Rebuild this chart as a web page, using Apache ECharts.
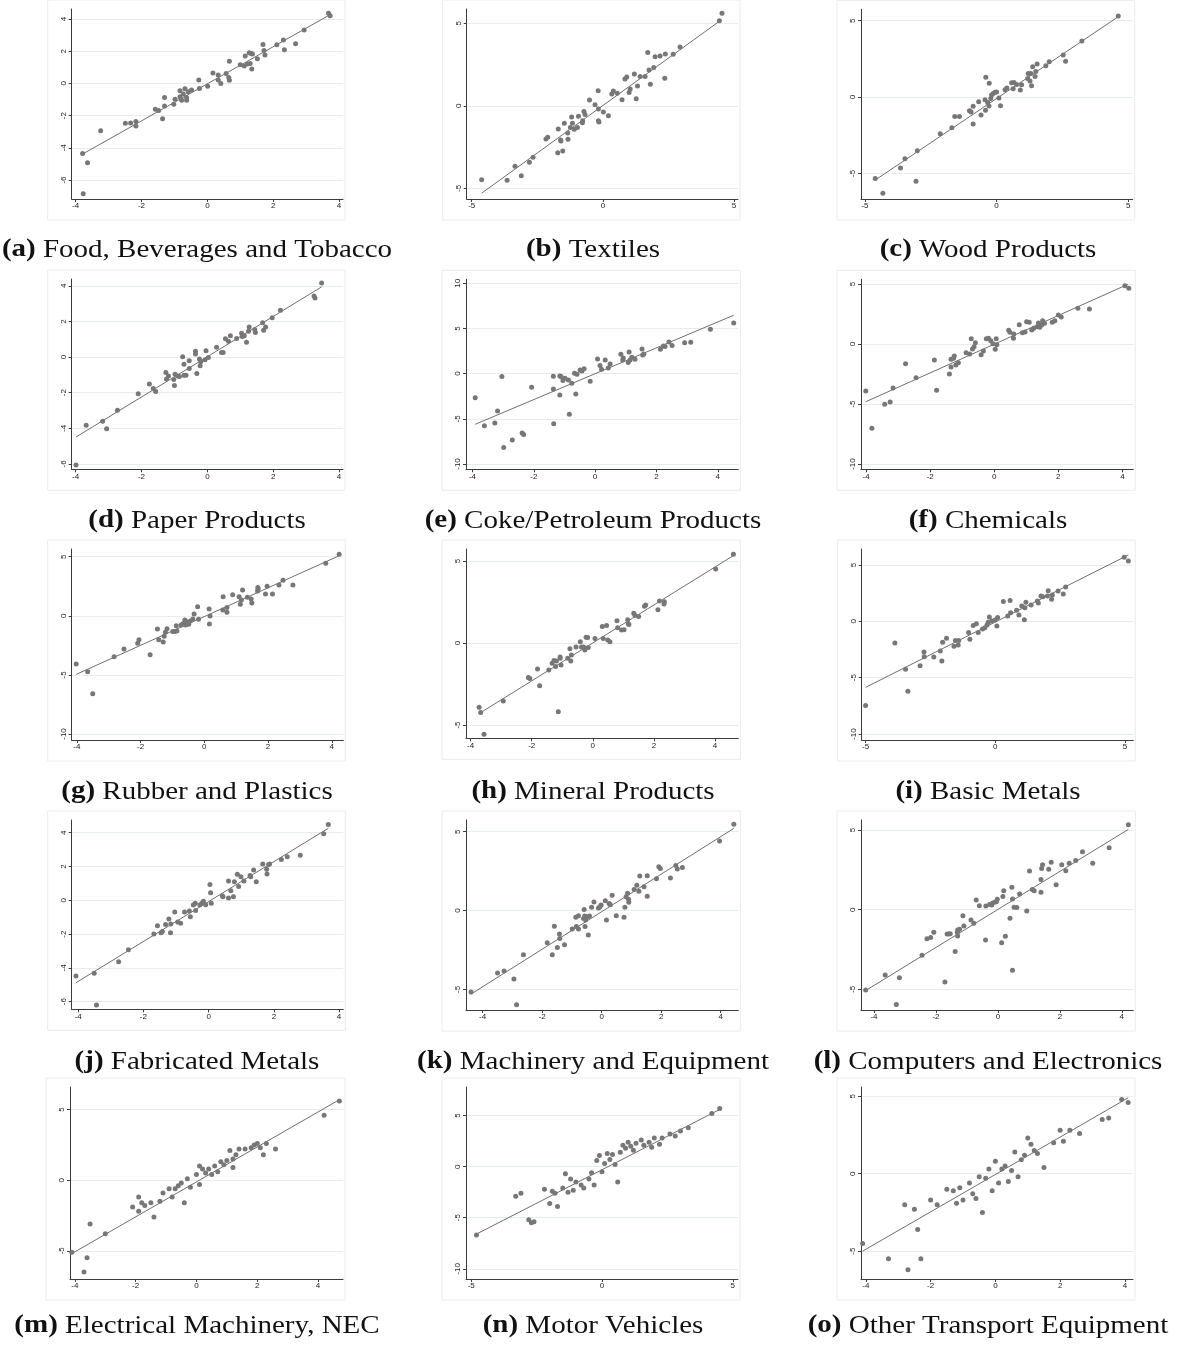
<!DOCTYPE html>
<html>
<head>
<meta charset="utf-8">
<script src="https://cdn.jsdelivr.net/npm/echarts@6/dist/echarts.min.js"></script>
<style>
  html, body { margin: 0; padding: 0; background: #ffffff; }
  #chart { width: 1181px; height: 1350px; }
</style>
</head>
<body>
<div id="chart"></div>
<script>
// ---- industry scatter data: [x, y] pairs, plus the fitted line end points ----
const foodPts = [[-3.79,-4.35],[-3.64,-4.93],[-3.77,-6.85],[-3.24,-2.94],[-2.49,-2.48],[-2.33,-2.46],[-2.17,-2.36],[-2.17,-2.65],[-1.58,-1.61],[-1.48,-1.68],[-1.36,-2.19],[-1.30,-0.87],[-1.30,-1.41],[-1.02,-1.30],[-0.98,-0.99],[-0.83,-0.46],[-0.83,-0.83],[-0.78,-1.04],[-0.73,-0.66],[-0.68,-0.33],[-0.63,-0.87],[-0.63,-1.04],[-0.58,-0.52],[-0.48,-0.41],[-0.26,0.21],[-0.24,-0.31],[0.01,-0.17],[0.17,0.64],[0.33,0.52],[0.33,0.21],[0.41,0.0],[0.57,0.62],[0.65,0.37],[0.67,0.19],[0.67,1.37],[1.0,1.16],[1.12,1.08],[1.15,1.70],[1.22,1.20],[1.27,1.90],[1.30,1.24],[1.33,1.86],[1.35,0.89],[1.37,1.82],[1.52,1.53],[1.69,2.42],[1.72,2.05],[1.75,1.76],[2.11,2.40],[2.31,2.69],[2.34,2.09],[2.68,2.46],[2.94,3.31],[3.68,4.35],[3.73,4.20]];
const foodFit = [[-3.79,-4.39],[3.73,4.27]];

const textilesPts = [[-4.62,-4.49],[-3.65,-4.52],[-3.35,-3.67],[-3.11,-4.24],[-2.80,-3.42],[-2.66,-3.12],[-2.17,-2.01],[-2.10,-1.91],[-1.72,-2.84],[-1.70,-1.40],[-1.61,-2.07],[-1.60,-2.13],[-1.53,-2.74],[-1.47,-1.06],[-1.34,-1.65],[-1.33,-2.03],[-1.24,-1.32],[-1.19,-0.68],[-1.16,-1.06],[-1.09,-1.42],[-0.97,-1.32],[-0.93,-0.64],[-0.78,-1.02],[-0.77,-0.90],[-0.72,-0.35],[-0.68,-0.52],[-0.51,0.35],[-0.30,0.07],[-0.18,0.92],[-0.17,-0.19],[-0.17,-0.90],[-0.15,-0.98],[0.02,-0.37],[0.21,-0.60],[0.34,0.72],[0.40,0.90],[0.55,0.76],[0.73,0.37],[0.84,1.62],[0.91,1.75],[1.00,0.80],[1.04,1.02],[1.20,1.93],[1.27,0.43],[1.32,1.20],[1.42,1.77],[1.61,1.77],[1.71,3.24],[1.76,2.17],[1.81,1.30],[1.94,2.33],[1.99,2.98],[2.18,3.02],[2.36,1.67],[2.38,3.14],[2.68,3.12],[2.94,3.56],[4.44,5.16],[4.54,5.61]];
const textilesFit = [[-4.62,-5.30],[4.47,5.16]];

const woodPts = [[-4.61,-5.33],[-4.32,-6.31],[-3.65,-4.65],[-3.48,-4.04],[-3.06,-5.52],[-3.01,-3.52],[-2.14,-2.40],[-1.70,-2.01],[-1.59,-1.27],[-1.41,-1.27],[-1.03,-0.90],[-0.97,-0.98],[-0.89,-0.61],[-0.89,-1.77],[-0.68,-0.31],[-0.59,-1.18],[-0.44,-0.17],[-0.42,-0.87],[-0.41,1.29],[-0.34,-0.35],[-0.29,-0.59],[-0.28,0.90],[-0.22,-0.09],[-0.19,0.13],[-0.13,0.24],[-0.06,0.31],[0.0,0.33],[0.09,-0.07],[0.15,-0.57],[0.32,0.48],[0.39,0.59],[0.57,0.94],[0.63,0.55],[0.66,0.96],[0.76,0.83],[0.90,0.46],[0.95,0.81],[1.18,1.22],[1.20,1.55],[1.27,1.05],[1.30,1.55],[1.33,0.74],[1.37,1.99],[1.46,1.35],[1.49,1.68],[1.54,2.16],[1.87,2.05],[2.0,2.31],[2.53,2.75],[2.62,2.34],[3.24,3.67],[4.62,5.31]];
const woodFit = [[-4.61,-5.44],[4.62,5.26]];

const paperPts = [[-3.99,-6.06],[-3.68,-3.83],[-3.18,-3.60],[-3.06,-4.02],[-2.73,-2.98],[-2.10,-2.06],[-1.76,-1.51],[-1.64,-1.77],[-1.57,-1.94],[-1.26,-0.87],[-1.24,-1.23],[-1.18,-1.06],[-1.02,-1.26],[-1.00,-1.60],[-0.98,-0.96],[-0.90,-1.06],[-0.85,-1.09],[-0.75,0.02],[-0.71,-0.40],[-0.71,-1.02],[-0.65,-1.02],[-0.55,-0.64],[-0.55,-0.21],[-0.36,0.17],[-0.36,0.32],[-0.32,-0.92],[-0.24,-0.11],[-0.22,-0.49],[-0.20,-0.26],[-0.07,-0.15],[-0.04,0.36],[0.03,-0.02],[0.28,0.55],[0.43,0.26],[0.48,0.26],[0.55,1.02],[0.64,0.89],[0.70,1.19],[0.89,1.04],[1.04,1.34],[1.06,1.15],[1.12,1.19],[1.19,0.83],[1.25,1.45],[1.27,1.68],[1.44,1.55],[1.46,1.38],[1.68,1.92],[1.71,1.51],[1.77,1.68],[1.97,2.21],[2.22,2.62],[3.24,3.42],[3.27,3.32],[3.47,4.15]];
const paperFit = [[-3.99,-4.49],[3.47,3.94]];

const cokePts = [[-3.91,-2.66],[-3.61,-5.76],[-3.27,-5.46],[-3.18,-4.13],[-3.04,-0.33],[-2.98,-8.19],[-2.70,-7.34],[-2.38,-6.57],[-2.33,-6.75],[-2.07,-1.51],[-1.36,-0.30],[-1.36,-1.70],[-1.35,-5.54],[-1.15,-0.26],[-1.15,-2.36],[-1.11,-0.33],[-1.05,-0.77],[-0.98,-0.52],[-0.87,-0.70],[-0.84,-4.50],[-0.76,-1.07],[-0.67,0.04],[-0.63,-2.25],[-0.59,-0.07],[-0.49,0.41],[-0.43,0.30],[-0.36,0.55],[-0.16,-0.85],[0.08,1.62],[0.16,0.89],[0.21,0.48],[0.33,1.51],[0.43,0.63],[0.49,1.07],[0.84,2.14],[0.90,1.51],[0.92,1.73],[1.08,1.22],[1.11,2.40],[1.14,1.51],[1.20,1.81],[1.30,1.59],[1.53,2.73],[1.55,2.07],[1.59,2.18],[2.13,2.69],[2.23,3.06],[2.28,2.99],[2.41,3.51],[2.51,3.10],[2.92,3.43],[3.12,3.47],[3.76,4.91],[4.52,5.61]];
const cokeFit = [[-3.91,-5.61],[4.52,6.46]];

const chemPts = [[-4.01,-3.92],[-3.82,-7.03],[-3.42,-5.03],[-3.25,-4.83],[-3.16,-3.67],[-2.77,-1.64],[-2.44,-2.81],[-1.87,-1.33],[-1.80,-3.86],[-1.40,-2.50],[-1.35,-1.92],[-1.35,-1.28],[-1.27,-1.19],[-1.25,-1.00],[-1.20,-1.75],[-1.12,-1.56],[-0.88,-0.72],[-0.77,-0.83],[-0.72,0.44],[-0.68,-0.42],[-0.63,-0.22],[-0.59,0.11],[-0.41,-0.89],[-0.34,-0.58],[-0.25,0.44],[-0.18,0.47],[-0.11,0.28],[-0.04,0.03],[0.03,-0.44],[0.06,0.44],[0.08,-0.06],[0.45,1.14],[0.49,0.97],[0.60,0.47],[0.61,0.83],[0.78,1.61],[0.88,0.94],[0.96,1.0],[1.01,1.86],[1.09,1.81],[1.17,1.17],[1.23,1.31],[1.34,1.44],[1.38,1.75],[1.42,1.39],[1.48,1.58],[1.51,1.94],[1.57,1.72],[1.81,1.81],[1.89,1.94],[2.0,2.42],[2.09,2.25],[2.61,2.97],[2.97,2.92],[4.08,4.86],[4.20,4.64]];
const chemFit = [[-4.01,-4.81],[4.17,4.97]];

const rubberPts = [[-4.02,-4.08],[-3.66,-4.73],[-3.50,-6.59],[-2.83,-3.46],[-2.52,-2.81],[-2.09,-2.33],[-2.05,-2.02],[-1.70,-3.29],[-1.47,-1.12],[-1.43,-2.02],[-1.29,-2.21],[-1.26,-1.74],[-1.22,-1.40],[-1.17,-1.09],[-0.99,-1.34],[-0.93,-1.34],[-0.88,-0.84],[-0.86,-1.29],[-0.73,-0.78],[-0.67,-0.67],[-0.61,-0.36],[-0.59,-0.78],[-0.55,-0.50],[-0.49,-0.72],[-0.44,-0.44],[-0.36,-0.27],[-0.32,0.15],[-0.21,0.77],[-0.18,-0.30],[0.15,0.57],[0.16,-0.70],[0.18,-0.02],[0.58,0.49],[0.59,1.61],[0.71,0.29],[0.71,0.69],[0.89,1.78],[1.09,1.61],[1.13,0.97],[1.16,1.33],[1.20,2.18],[1.35,1.56],[1.47,1.42],[1.49,1.08],[1.67,2.09],[1.68,2.40],[1.69,2.26],[1.92,1.84],[1.97,2.49],[2.14,1.84],[2.34,2.60],[2.47,3.00],[2.78,2.60],[3.81,4.44],[4.23,5.20]];
const rubberFit = [[-4.02,-4.96],[4.23,5.08]];

const mineralPts = [[-3.72,-3.92],[-3.67,-4.23],[-3.56,-5.57],[-2.93,-3.54],[-2.11,-2.11],[-2.06,-2.17],[-1.81,-1.59],[-1.74,-2.60],[-1.44,-1.65],[-1.33,-1.24],[-1.27,-1.06],[-1.22,-1.44],[-1.19,-1.10],[-1.13,-4.19],[-1.07,-0.85],[-1.07,-0.93],[-1.04,-1.34],[-0.82,-0.93],[-0.75,-0.35],[-0.72,-1.10],[-0.70,-0.73],[-0.55,-0.24],[-0.41,0.08],[-0.37,-0.24],[-0.30,-0.24],[-0.26,-0.43],[-0.22,0.35],[-0.17,0.33],[-0.15,-0.28],[0.07,0.28],[0.31,1.0],[0.34,0.28],[0.45,1.06],[0.49,0.18],[0.56,0.08],[0.79,1.36],[0.81,0.93],[0.94,0.79],[1.02,0.81],[1.14,1.42],[1.16,1.18],[1.18,1.12],[1.34,1.81],[1.38,1.67],[1.50,1.61],[1.69,2.24],[1.73,2.32],[2.13,2.03],[2.18,2.56],[2.33,2.38],[2.34,2.52],[4.02,4.51],[4.60,5.41]];
const mineralFit = [[-3.71,-4.29],[4.60,5.33]];

const basicPts = [[-5.0,-7.46],[-3.87,-1.92],[-3.46,-4.26],[-3.37,-6.21],[-2.90,-3.93],[-2.75,-2.72],[-2.74,-3.14],[-2.37,-3.17],[-2.12,-2.63],[-2.06,-3.52],[-2.03,-1.86],[-1.88,-1.51],[-1.59,-2.22],[-1.54,-1.69],[-1.43,-2.10],[-1.41,-1.69],[-1.03,-0.98],[-0.98,-1.60],[-0.85,-0.36],[-0.73,-0.21],[-0.66,-0.98],[-0.49,-0.68],[-0.40,-0.56],[-0.32,-0.33],[-0.27,-0.09],[-0.23,0.38],[-0.14,0.03],[-0.01,0.12],[0.06,-0.41],[0.09,0.33],[0.31,1.75],[0.48,0.47],[0.57,1.86],[0.59,0.77],[0.82,0.98],[0.91,0.56],[1.02,1.36],[1.12,0.15],[1.14,1.21],[1.18,1.69],[1.38,1.45],[1.62,1.80],[1.66,1.63],[1.76,2.25],[1.83,2.19],[2.01,2.25],[2.04,2.72],[2.17,1.95],[2.20,2.34],[2.42,2.69],[2.62,2.43],[2.71,3.05],[4.97,5.68],[5.13,5.36]];
const basicFit = [[-5.0,-5.86],[5.13,5.89]];

const fabPts = [[-4.07,-4.48],[-3.51,-4.31],[-3.44,-6.20],[-2.76,-3.63],[-2.46,-2.92],[-1.68,-2.00],[-1.57,-1.50],[-1.46,-1.92],[-1.42,-1.84],[-1.32,-1.44],[-1.22,-1.11],[-1.17,-1.92],[-1.16,-1.40],[-1.04,-0.69],[-0.95,-1.28],[-0.86,-1.36],[-0.74,-0.69],[-0.59,-0.63],[-0.56,-0.97],[-0.47,-0.28],[-0.41,-0.18],[-0.40,-0.61],[-0.27,-0.28],[-0.21,-0.18],[-0.16,-0.06],[-0.09,-0.26],[0.04,0.94],[0.06,0.45],[0.08,-0.18],[0.42,0.27],[0.44,0.21],[0.61,1.14],[0.61,0.14],[0.68,0.57],[0.76,0.21],[0.79,1.10],[0.88,1.54],[0.92,0.81],[0.99,1.39],[1.08,1.14],[1.27,1.47],[1.29,1.39],[1.38,1.79],[1.46,1.10],[1.66,2.15],[1.78,1.83],[1.79,1.56],[1.84,2.11],[1.87,2.15],[2.23,2.42],[2.41,2.58],[2.81,2.66],[3.53,3.94],[3.67,4.49]];
const fabFit = [[-4.07,-4.88],[3.67,4.26]];

const machPts = [[-4.39,-5.17],[-3.50,-3.96],[-3.28,-3.84],[-2.95,-4.34],[-2.86,-5.97],[-2.63,-2.80],[-1.83,-2.04],[-1.66,-2.80],[-1.59,-1.00],[-1.49,-2.34],[-1.42,-1.49],[-1.41,-1.77],[-1.25,-2.17],[-0.99,-1.17],[-0.87,-0.43],[-0.85,-1.02],[-0.78,-0.33],[-0.78,-1.17],[-0.61,-0.50],[-0.59,0.07],[-0.57,-0.35],[-0.56,-1.02],[-0.54,-0.60],[-0.47,-0.39],[-0.45,-1.55],[-0.41,-0.35],[-0.34,0.20],[-0.26,0.54],[-0.11,0.16],[-0.06,0.24],[-0.02,0.35],[0.12,0.62],[0.16,-0.60],[0.25,0.45],[0.29,0.37],[0.35,0.96],[0.49,-0.33],[0.75,-0.43],[0.78,0.20],[0.82,0.88],[0.87,1.09],[0.90,0.71],[0.91,0.52],[1.09,1.34],[1.18,1.60],[1.28,2.19],[1.25,1.22],[1.42,1.51],[1.53,2.21],[1.53,0.90],[1.84,2.02],[1.92,2.78],[1.97,2.67],[2.31,2.06],[2.49,2.86],[2.54,2.63],[2.71,2.72],[3.96,4.41],[4.44,5.47]];
const machFit = [[-4.39,-5.30],[4.44,5.21]];

const compPts = [[-4.27,-5.04],[-3.64,-4.10],[-3.28,-5.96],[-3.18,-4.27],[-2.45,-2.87],[-2.29,-1.82],[-2.17,-1.74],[-2.07,-1.42],[-1.71,-4.54],[-1.64,-1.53],[-1.58,-1.53],[-1.54,-1.51],[-1.38,-2.62],[-1.31,-1.44],[-1.30,-1.65],[-1.30,-1.28],[-1.24,-1.23],[-1.13,-0.38],[-1.10,-1.03],[-0.87,-0.65],[-0.78,-0.86],[-0.70,0.61],[-0.60,0.25],[-0.39,0.23],[-0.40,-1.90],[-0.27,0.33],[-0.20,0.29],[-0.18,0.40],[-0.11,0.46],[-0.05,0.50],[-0.02,0.65],[0.12,-2.07],[0.16,0.82],[0.19,1.19],[0.24,-1.67],[0.39,-0.54],[0.45,1.40],[0.47,0.67],[0.47,-3.81],[0.52,0.15],[0.61,0.13],[0.70,0.98],[0.93,-0.08],[1.02,2.43],[1.11,1.26],[1.17,1.19],[1.39,1.90],[1.39,1.09],[1.41,2.59],[1.44,2.82],[1.64,2.53],[1.72,2.97],[1.88,1.57],[2.06,2.82],[2.19,2.45],[2.30,2.91],[2.51,3.08],[2.73,3.64],[3.06,2.91],[3.59,3.89],[4.21,5.33]];
const compFit = [[-4.27,-5.08],[4.21,5.04]];

const elecPts = [[-4.1,-5.1],[-3.7,-6.5],[-3.6,-5.5],[-3.5,-3.1],[-3.0,-3.8],[-2.1,-1.9],[-1.9,-1.2],[-1.9,-2.2],[-1.8,-1.6],[-1.7,-1.8],[-1.5,-1.6],[-1.4,-2.6],[-1.2,-1.5],[-1.1,-0.9],[-0.9,-0.6],[-0.8,-1.2],[-0.7,-0.6],[-0.6,-0.4],[-0.5,-0.2],[-0.4,-1.6],[-0.3,0.1],[-0.2,-0.5],[0.0,0.4],[0.1,1.0],[0.1,-0.3],[0.2,0.8],[0.3,0.5],[0.4,0.8],[0.5,0.4],[0.6,1.0],[0.7,0.6],[0.8,1.3],[0.9,1.1],[1.0,1.4],[1.1,2.1],[1.2,0.9],[1.2,1.5],[1.3,1.8],[1.4,2.2],[1.6,2.2],[1.8,2.3],[1.9,2.5],[2.0,2.6],[2.1,2.3],[2.2,1.8],[2.3,2.6],[2.6,2.2],[4.2,4.6],[4.7,5.6]];
const elecFit = [[-4.1,-5.2],[4.7,5.7]];

const motorPts = [[-4.8,-6.7],[-3.3,-2.9],[-3.1,-2.6],[-2.8,-5.2],[-2.7,-5.5],[-2.6,-5.4],[-2.2,-2.2],[-2.0,-3.6],[-1.9,-2.4],[-1.8,-2.6],[-1.7,-3.9],[-1.5,-2.1],[-1.4,-0.7],[-1.3,-2.5],[-1.2,-1.2],[-1.1,-2.3],[-1.0,-1.5],[-0.8,-1.8],[-0.7,-2.1],[-0.5,-1.2],[-0.4,-0.6],[-0.3,-1.8],[-0.2,0.6],[-0.1,1.1],[0.0,-0.5],[0.1,0.3],[0.2,1.3],[0.3,0.7],[0.4,1.2],[0.5,0.2],[0.6,-1.5],[0.7,1.4],[0.8,2.1],[0.9,1.8],[1.0,2.4],[1.1,2.0],[1.2,1.6],[1.3,2.3],[1.5,2.6],[1.6,2.1],[1.8,2.4],[1.9,1.9],[2.0,2.8],[2.2,2.2],[2.3,2.8],[2.6,3.2],[2.8,3.0],[3.0,3.5],[3.3,3.8],[4.2,5.2],[4.5,5.7]];
const motorFit = [[-4.8,-6.6],[4.5,5.6]];

const transPts = [[-4.1,-4.5],[-3.3,-5.5],[-2.8,-2.0],[-2.7,-6.2],[-2.5,-2.3],[-2.4,-3.6],[-2.3,-5.5],[-2.0,-1.7],[-1.8,-2.0],[-1.5,-1.0],[-1.3,-1.1],[-1.2,-1.9],[-1.1,-0.9],[-1.0,-1.7],[-0.8,-0.6],[-0.7,-1.3],[-0.6,-1.6],[-0.5,-0.2],[-0.4,-2.5],[-0.3,-0.3],[-0.2,0.3],[-0.1,-1.1],[0.0,0.8],[0.1,-0.6],[0.2,0.3],[0.3,0.5],[0.4,-0.5],[0.5,0.2],[0.6,1.4],[0.7,-0.2],[0.8,0.9],[0.9,1.2],[1.0,2.3],[1.1,1.9],[1.2,1.5],[1.3,1.3],[1.5,0.4],[1.8,2.0],[2.0,2.8],[2.1,2.1],[2.3,2.8],[2.6,2.6],[3.3,3.5],[3.5,3.6],[3.9,4.8],[4.1,4.6]];
const transFit = [[-4.1,-5.0],[4.1,4.9]];

// ---- panel captions and tick labels ----
const tags = ['(a)','(b)','(c)','(d)','(e)','(f)','(g)','(h)','(i)','(j)','(k)','(l)','(m)','(n)','(o)'];
const names = ['Food, Beverages and Tobacco','Textiles','Wood Products','Paper Products','Coke/Petroleum Products','Chemicals','Rubber and Plastics','Mineral Products','Basic Metals','Fabricated Metals','Machinery and Equipment','Computers and Electronics','Electrical Machinery, NEC','Motor Vehicles','Other Transport Equipment'];
const xTicks4 = [-4,-2,0,2,4];
const xTicks5 = [-5,0,5];
const yTicks6 = [-6,-4,-2,0,2,4];
const yTicks5 = [-5,0,5];
const yTicks10 = [-10,-5,0,5,10];
const yTicks10b = [-10,-5,0,5];

const pointSets = [foodPts,textilesPts,woodPts,paperPts,cokePts,chemPts,rubberPts,mineralPts,basicPts,fabPts,machPts,compPts,elecPts,motorPts,transPts];
const fitSets = [foodFit,textilesFit,woodFit,paperFit,cokeFit,chemFit,rubberFit,mineralFit,basicFit,fabFit,machFit,compFit,elecFit,motorFit,transFit];
const xTickSets = [xTicks4,xTicks5,xTicks5,xTicks4,xTicks4,xTicks4,xTicks4,xTicks4,xTicks5,xTicks4,xTicks4,xTicks4,xTicks4,xTicks5,xTicks4];
const yTickSets = [yTicks6,yTicks5,yTicks5,yTicks6,yTicks10,yTicks10b,yTicks10b,yTicks5,yTicks10b,yTicks6,yTicks5,yTicks5,yTicks5,yTicks10b,yTicks5];

// ---- layout: plot box [left, top, right, bottom] in px, and axis ranges ----
const layout = [
  { box:[71.7,9,343,199],        xr:[-4.12,4.12], yr:[-7.18,4.62] },
  { box:[466.7,9,738,199],       xr:[-5.19,5.15], yr:[-5.65,5.87] },
  { box:[861,9.3,1132.7,199],    xr:[-5.15,5.17], yr:[-6.68,5.75] },
  { box:[71.7,279,343,469.3],    xr:[-4.12,4.12], yr:[-6.30,4.38] },
  { box:[466,279.3,738.3,469.3], xr:[-4.21,4.67], yr:[-10.59,10.44] },
  { box:[861,279.3,1133.3,469.3],xr:[-4.16,4.34], yr:[-10.44,5.39] },
  { box:[71.7,549,343.3,740],    xr:[-4.16,4.36], yr:[-10.51,5.65] },
  { box:[466,549,738.3,738.3],   xr:[-4.15,4.76], yr:[-5.81,5.73] },
  { box:[861.7,549,1133.3,740],  xr:[-5.15,5.32], yr:[-10.53,6.42] },
  { box:[71.7,820,343.3,1009.3], xr:[-4.20,4.13], yr:[-6.45,4.75] },
  { box:[466,820,738.3,1010],    xr:[-4.56,4.59], yr:[-6.31,5.74] },
  { box:[861,820,1133.3,1010],   xr:[-4.42,4.37], yr:[-6.30,5.63] },
  { box:[70,1087,343,1279],      xr:[-4.16,4.82], yr:[-7.0,6.6] },
  { box:[466,1087,738,1279],     xr:[-5.2,5.2],   yr:[-11.0,7.8] },
  { box:[861,1087,1133,1279],    xr:[-4.15,4.25], yr:[-6.8,5.6] }
];
const captionX = [197, 593, 988];
const captionY = [250, 521, 792, 1062, 1326];

const AXIS = '#3c3c3c';
const grids = [], xAxes = [], yAxes = [], series = [], graphics = [];

layout.forEach((p, i) => {
  const [l, t, r, b] = p.box;
  grids.push({ left: l, top: t, width: r - l, height: b - t, containLabel: false });

  xAxes.push({
    gridIndex: i, type: 'value', min: p.xr[0], max: p.xr[1],
    axisLine: { show: true, onZero: false, lineStyle: { color: AXIS, width: 1 } },
    axisTick: { show: true, length: 3, customValues: xTickSets[i], lineStyle: { color: AXIS, width: 1 } },
    axisLabel: { customValues: xTickSets[i], fontSize: 8, margin: 3, color: '#222',
                 fontFamily: 'Liberation Sans, Arial, sans-serif' },
    splitLine: { show: false }
  });
  yAxes.push({
    gridIndex: i, type: 'value', min: p.yr[0], max: p.yr[1],
    axisLine: { show: true, onZero: false, lineStyle: { color: AXIS, width: 1 } },
    axisTick: { show: true, length: 3, customValues: yTickSets[i], lineStyle: { color: AXIS, width: 1 } },
    axisLabel: { customValues: yTickSets[i], fontSize: 8, margin: 4, rotate: 90, color: '#222',
                 fontFamily: 'Liberation Sans, Arial, sans-serif' },
    splitLine: { show: false }
  });

  // horizontal grid lines at the y ticks, kept beneath the marks
  series.push({
    type: 'line', xAxisIndex: i, yAxisIndex: i, data: fitSets[i],
    showSymbol: false, symbol: 'none', silent: true, z: 0, animation: false,
    lineStyle: { opacity: 0 },
    markLine: {
      silent: true, symbol: 'none', animation: false, z: 0,
      label: { show: false },
      lineStyle: { color: '#e4eef0', width: 1, type: 'solid' },
      emphasis: { disabled: true },
      data: yTickSets[i].map(v => ({ yAxis: v }))
    }
  });
  // fitted line
  series.push({
    type: 'line', xAxisIndex: i, yAxisIndex: i, data: fitSets[i],
    showSymbol: false, symbol: 'none', silent: true, z: 2, animation: false,
    lineStyle: { color: '#6f6f6f', width: 1 }
  });
  // observations
  series.push({
    type: 'scatter', xAxisIndex: i, yAxisIndex: i, data: pointSets[i],
    symbol: 'circle', symbolSize: 5, z: 3, animation: false,
    itemStyle: { color: '#777777', opacity: 1 }
  });

  // faint graph-region frame
  graphics.push({
    type: 'rect', silent: true, z: -1,
    shape: { x: l - 24, y: t - 9, width: (r + 2) - (l - 24), height: (b + 21) - (t - 9) },
    style: { fill: 'none', stroke: '#ececec', lineWidth: 1 }
  });

  // caption under the panel
  graphics.push({
    type: 'text', silent: true,
    x: captionX[i % 3], y: captionY[Math.floor(i / 3)], scaleX: 1.16,
    style: {
      text: '{b|' + tags[i] + '}{r| ' + names[i] + '}',
      align: 'center', verticalAlign: 'middle',
      fill: '#111',
      rich: {
        b: { fontFamily: 'Liberation Serif, serif', fontSize: 25, fontWeight: 'bold', fill: '#111' },
        r: { fontFamily: 'Liberation Serif, serif', fontSize: 25, fill: '#111' }
      }
    }
  });
});

const chart = echarts.init(document.getElementById('chart'), null, { renderer: 'canvas' });
chart.setOption({
  backgroundColor: '#ffffff',
  animation: false,
  grid: grids,
  xAxis: xAxes,
  yAxis: yAxes,
  series: series,
  graphic: graphics
});
</script>
</body>
</html>
